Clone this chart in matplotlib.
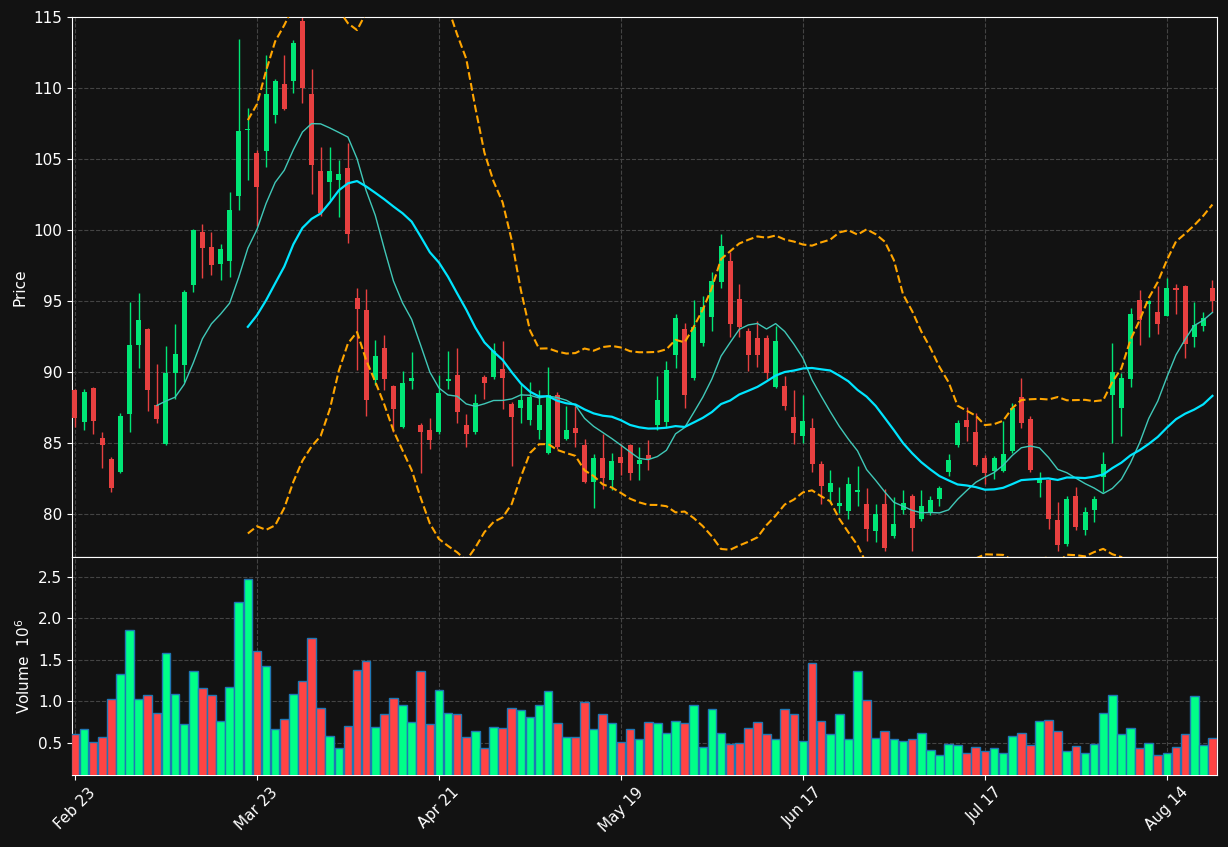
import matplotlib
matplotlib.use("Agg")
import matplotlib.pyplot as plt
import numpy as np
import pandas as pd

# OHLC, one entry per trading session
opens = [88.73, 86.50, 88.91, 85.40, 83.91, 82.96, 87.08, 91.90, 93.01, 87.68, 84.95, 89.95, 90.48, 96.11,
         99.87, 98.83, 97.61, 97.86, 102.41, 107.07, 105.40, 105.58, 108.08, 110.27, 110.47, 114.72, 109.61, 104.14,
         103.41, 103.50, 104.36, 95.25, 94.40, 89.46, 91.72, 89.02, 86.17, 89.38, 86.30, 85.93, 85.81, 89.38,
         89.82, 86.30, 85.81, 89.65, 89.65, 90.22, 87.76, 87.52, 86.66, 85.93, 84.35, 88.43, 85.33, 86.06,
         84.88, 82.28, 83.98, 82.45, 84.03, 84.88, 83.57, 84.16, 86.30, 86.50, 91.22, 93.06, 89.58, 92.06,
         93.91, 96.32, 97.83, 95.17, 92.87, 92.38, 92.38, 88.98, 89.02, 86.86, 85.49, 86.10, 83.57, 81.59,
         80.58, 80.21, 81.55, 80.75, 78.82, 80.75, 78.51, 80.33, 81.30, 79.65, 80.09, 81.06, 83.01, 84.89,
         86.61, 85.81, 83.98, 83.06, 83.06, 84.47, 88.25, 86.74, 82.23, 82.45, 79.60, 77.90, 81.30, 78.92,
         80.33, 82.62, 88.43, 87.52, 89.53, 95.11, 94.82, 94.27, 93.94, 95.96, 96.08, 92.45, 93.23, 95.96]
highs = [88.82, 88.85, 88.93, 85.80, 84.02, 87.15, 94.94, 95.60, 93.10, 90.60, 91.82, 93.41, 95.81, 100.05,
         100.40, 99.85, 99.03, 102.69, 113.43, 108.57, 105.65, 112.33, 110.64, 112.33, 113.39, 115.52, 111.34, 105.82,
         105.82, 104.92, 106.13, 95.91, 95.86, 92.26, 92.63, 89.09, 90.07, 91.46, 86.42, 86.79, 89.82, 91.53,
         91.72, 87.03, 88.49, 89.82, 92.05, 92.21, 87.88, 89.22, 89.34, 88.73, 90.38, 88.61, 87.63, 87.63,
         85.33, 84.23, 85.69, 84.35, 84.96, 84.96, 84.75, 85.20, 89.75, 90.80, 94.09, 93.47, 95.11, 95.38,
         97.08, 99.76, 98.47, 96.20, 93.11, 93.60, 92.63, 93.23, 89.71, 88.73, 88.41, 86.79, 83.74, 83.13,
         81.92, 82.65, 83.38, 81.87, 80.75, 81.79, 81.23, 81.68, 81.43, 81.68, 81.30, 82.03, 84.23, 86.61,
         87.59, 87.10, 84.18, 84.11, 86.54, 87.83, 89.58, 86.90, 82.96, 82.46, 80.86, 81.30, 81.92, 80.53,
         81.30, 84.42, 92.06, 89.95, 94.50, 95.79, 95.06, 96.04, 96.64, 96.20, 96.12, 94.94, 94.21, 96.52]
lows = [86.16, 85.93, 85.64, 83.25, 81.55, 82.88, 85.80, 90.31, 87.27, 86.42, 84.86, 88.12, 89.34, 95.67,
        96.64, 96.88, 96.50, 96.69, 101.39, 103.52, 100.29, 104.43, 107.55, 108.45, 109.67, 108.94, 102.55, 101.02,
        102.12, 100.90, 99.07, 90.19, 86.95, 89.09, 88.73, 85.81, 86.06, 88.85, 82.89, 84.60, 85.69, 88.85,
        86.42, 84.71, 85.69, 88.12, 89.55, 87.39, 83.38, 86.42, 86.30, 85.33, 84.23, 84.60, 85.20, 84.71,
        82.23, 80.46, 81.79, 81.68, 82.77, 82.40, 82.40, 83.13, 85.93, 86.17, 90.31, 87.47, 89.46, 91.84,
        92.87, 95.91, 92.50, 92.50, 90.07, 90.36, 89.53, 88.90, 87.32, 84.95, 85.00, 83.01, 80.70, 80.82,
        80.09, 79.65, 80.62, 78.09, 78.07, 77.41, 78.34, 80.02, 77.41, 79.54, 79.97, 80.62, 82.67, 84.71,
        85.15, 83.38, 82.16, 82.52, 83.01, 84.35, 86.06, 83.01, 81.19, 79.00, 77.41, 77.77, 78.87, 78.58,
        79.48, 81.55, 85.04, 85.49, 88.98, 91.95, 92.50, 92.70, 93.93, 94.09, 90.99, 91.77, 92.87, 94.21]
closes = [86.79, 88.61, 86.59, 84.91, 81.84, 86.90, 91.90, 93.65, 88.73, 86.71, 89.93, 91.26, 95.67, 99.98,
          98.78, 97.52, 98.69, 101.39, 106.99, 107.12, 103.04, 109.59, 110.51, 108.52, 113.19, 110.03, 104.60, 101.22,
          104.14, 103.94, 99.76, 94.42, 88.07, 91.11, 89.53, 87.44, 89.22, 89.58, 85.81, 85.20, 88.54, 89.51,
          87.19, 85.69, 87.86, 89.22, 91.53, 89.63, 86.86, 88.05, 88.25, 87.68, 88.43, 84.71, 85.93, 85.76,
          82.28, 83.98, 82.57, 83.74, 83.62, 82.89, 83.86, 83.91, 88.05, 90.19, 93.85, 88.41, 93.16, 94.58,
          96.44, 98.90, 93.40, 93.18, 91.21, 91.21, 89.95, 92.19, 87.63, 85.76, 86.59, 83.54, 82.03, 82.23,
          80.82, 82.16, 81.74, 79.00, 80.02, 77.65, 79.29, 80.82, 79.07, 80.58, 80.99, 81.89, 83.86, 86.42,
          86.17, 83.49, 82.94, 83.98, 84.23, 87.47, 86.42, 83.13, 82.52, 79.65, 77.85, 81.11, 79.11, 80.17,
          81.11, 83.57, 90.00, 89.58, 94.13, 93.67, 94.98, 93.43, 95.96, 95.82, 91.97, 93.30, 93.79, 95.04]
volumes = [0.61, 0.67, 0.51, 0.57, 1.03, 1.33, 1.86, 1.03, 1.07, 0.86,
           1.58, 1.09, 0.73, 1.37, 1.16, 1.08, 0.76, 1.17, 2.2, 2.48,
           1.61, 1.43, 0.67, 0.78, 1.09, 1.24, 1.76, 0.92, 0.58, 0.44,
           0.7, 1.38, 1.49, 0.69, 0.85, 1.04, 0.95, 0.75, 1.37, 0.72,
           1.14, 0.86, 0.84, 0.57, 0.64, 0.44, 0.69, 0.68, 0.92, 0.89,
           0.81, 0.95, 1.12, 0.74, 0.57, 0.57, 0.99, 0.66, 0.84, 0.74,
           0.51, 0.66, 0.54, 0.75, 0.74, 0.62, 0.76, 0.74, 0.95, 0.45,
           0.91, 0.62, 0.49, 0.5, 0.68, 0.75, 0.6, 0.55, 0.91, 0.84,
           0.52, 1.46, 0.76, 0.61, 0.84, 0.55, 1.37, 1.01, 0.56, 0.64,
           0.54, 0.52, 0.54, 0.62, 0.41, 0.35, 0.49, 0.47, 0.37, 0.45,
           0.4, 0.43, 0.38, 0.58, 0.62, 0.47, 0.76, 0.77, 0.64, 0.4,
           0.46, 0.38, 0.49, 0.86, 1.08, 0.6, 0.68, 0.44, 0.5, 0.35,
           0.38, 0.45, 0.6, 1.06, 0.47, 0.56]
tick_labels = ["Feb 23", "Mar 23", "Apr 21", "May 19", "Jun 17", "Jul 17", "Aug 14"]

BG = "#121212"
UP = "#00e676"
DOWN = "#e84040"
VOL_UP = "#00ff88"
VOL_DOWN = "#ff4444"

df = pd.DataFrame({"open": opens, "high": highs, "low": lows, "close": closes, "volume": volumes})
ma10 = df["close"].rolling(10).mean()
ma20 = df["close"].rolling(20).mean()
std20 = df["close"].rolling(20).std()
upper = ma20 + 2 * std20
lower = ma20 - 2 * std20
x = np.arange(len(df))
up = df["close"] >= df["open"]

fig = plt.figure(figsize=(12.28, 8.47), dpi=100, facecolor=BG)
ax = fig.add_axes([0.0586, 0.3424, 0.9324, 0.6375])
axv = fig.add_axes([0.0586, 0.085, 0.9324, 0.2574], sharex=ax)

for a in (ax, axv):
    a.set_facecolor(BG)
    for s in a.spines.values():
        s.set_color("white")
    a.tick_params(colors="white", labelsize=11)
    a.grid(True, color="#444444", linestyle="--", linewidth=0.8)
    a.set_axisbelow(True)

colors = np.where(up, UP, DOWN)
ax.vlines(x, df["low"], df["high"], colors=colors, linewidth=1, zorder=2)
body_lo = np.minimum(df["open"], df["close"])
body_h = np.maximum((df["close"] - df["open"]).abs(), 0.08)
ax.bar(x, body_h, bottom=body_lo, width=0.55, color=colors, zorder=3)

ax.plot(x, ma10, color="#40c8b8", linewidth=1, zorder=4)
ax.plot(x, ma20, color="#00e5ff", linewidth=1.6, zorder=4)
ax.plot(x, upper, color="#ffa500", linestyle="--", linewidth=1.5, zorder=4)
ax.plot(x, lower, color="#ffa500", linestyle="--", linewidth=1.5, zorder=4)

ax.set_ylim(77, 115)
ax.set_xlim(-0.33, 125.5)
ax.set_ylabel("Price", color="white", fontsize=11)
ax.tick_params(axis="x", labelbottom=False)

axv.bar(x, df["volume"], width=0.95, color=np.where(up, VOL_UP, VOL_DOWN),
        edgecolor="#1f77b4", linewidth=1, zorder=3)
axv.set_ylim(0.11, 2.74)
axv.set_yticks([0.5, 1.0, 1.5, 2.0, 2.5])
axv.set_ylabel("Volume  $10^6$", color="white", fontsize=11)
axv.set_xticks(np.arange(0, len(df), 20))
axv.set_xticklabels(tick_labels, rotation=45)

fig.savefig("out.png", facecolor=BG)
